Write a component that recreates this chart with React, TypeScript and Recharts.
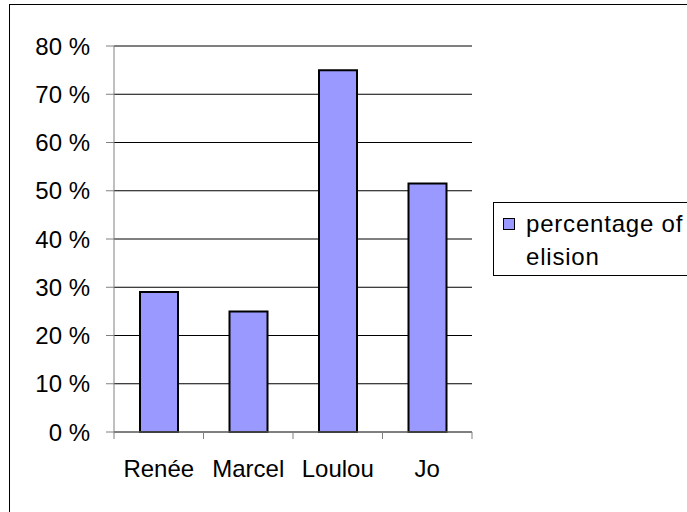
import { BarChart, Bar, XAxis, YAxis, CartesianGrid } from "recharts";

const speakers = ["Renée", "Marcel", "Loulou", "Jo"];
const elision = [29, 25, 75, 51.5];
const yTicks = [0, 10, 20, 30, 40, 50, 60, 70, 80];
const seriesName = "percentage of elision";

const FONT = '"Liberation Sans", Arial, sans-serif';
const BAR_FILL = "#9999ff";
const AXIS_GRAY = "#808080";

const chartData = speakers.map((name, i) => ({ name, value: elision[i] }));

// category label centred in the band, tick marks on the band edges (Excel style)
function CategoryTick(props: any) {
  const { x, y, payload, index, width, visibleTicksCount } = props;
  const band =
    width && visibleTicksCount ? width / visibleTicksCount : (payload.offset || 0) * 2;
  const left = x - band / 2;
  const right = x + band / 2;
  return (
    <g>
      <line x1={left} y1={y} x2={left} y2={y + 7} stroke={AXIS_GRAY} />
      {index === visibleTicksCount - 1 && (
        <line x1={right} y1={y} x2={right} y2={y + 7} stroke={AXIS_GRAY} />
      )}
      <text x={x} y={y + 45} textAnchor="middle" fill="#000" fontSize={24} fontFamily={FONT}>
        {payload.value}
      </text>
    </g>
  );
}

function BoxLegend() {
  return (
    <div
      style={{
        position: "absolute",
        left: 493,
        top: 202,
        width: 240,
        height: 74,
        boxSizing: "border-box",
        border: "1px solid #000",
        background: "#fff",
        fontFamily: FONT,
        fontSize: 24,
        lineHeight: "33px",
        letterSpacing: 0.8,
        color: "#000",
      }}
    >
      <div
        style={{
          position: "absolute",
          left: 9,
          top: 15,
          width: 10,
          height: 10,
          background: BAR_FILL,
          border: "1px solid #000",
        }}
      />
      <div style={{ position: "absolute", left: 32, top: 4, width: 170 }}>{seriesName}</div>
    </div>
  );
}

export default function App() {
  return (
    <div
      style={{
        position: "absolute",
        left: 0,
        top: 0,
        width: 687,
        height: 512,
        overflow: "hidden",
        background: "#fff",
      }}
    >
      <div
        style={{
          position: "absolute",
          left: 9,
          top: 4,
          width: 800,
          height: 700,
          border: "1px solid #000",
        }}
      />
      <div style={{ position: "absolute", left: 0, top: 0 }}>
        <BarChart
          width={687}
          height={512}
          data={chartData}
          margin={{ top: 46, right: 215, bottom: 0, left: 0 }}
        >
          <CartesianGrid vertical={false} stroke="#000" />
          <XAxis
            dataKey="name"
            height={80}
            tickSize={0}
            tickMargin={0}
            tickLine={false}
            stroke={AXIS_GRAY}
            tick={<CategoryTick />}
            interval={0}
          />
          <XAxis
            xAxisId="top"
            dataKey="name"
            orientation="top"
            height={0}
            tick={false}
            tickLine={false}
            stroke={AXIS_GRAY}
          />
          <YAxis
            domain={[0, 80]}
            ticks={yTicks}
            width={114}
            tickSize={8}
            tickMargin={16}
            stroke={AXIS_GRAY}
            tickLine={{ stroke: AXIS_GRAY }}
            tick={{ fill: "#000", fontSize: 24, fontFamily: FONT }}
            tickFormatter={(v: number) => `${v} %`}
            interval={0}
          />
          <YAxis
            yAxisId="right"
            orientation="right"
            domain={[0, 80]}
            width={0}
            tick={false}
            tickLine={false}
            stroke={AXIS_GRAY}
          />
          <Bar
            dataKey="value"
            name={seriesName}
            fill={BAR_FILL}
            stroke="#000"
            strokeWidth={2}
            barSize={38}
            isAnimationActive={false}
          />
        </BarChart>
      </div>
      <BoxLegend />
    </div>
  );
}
